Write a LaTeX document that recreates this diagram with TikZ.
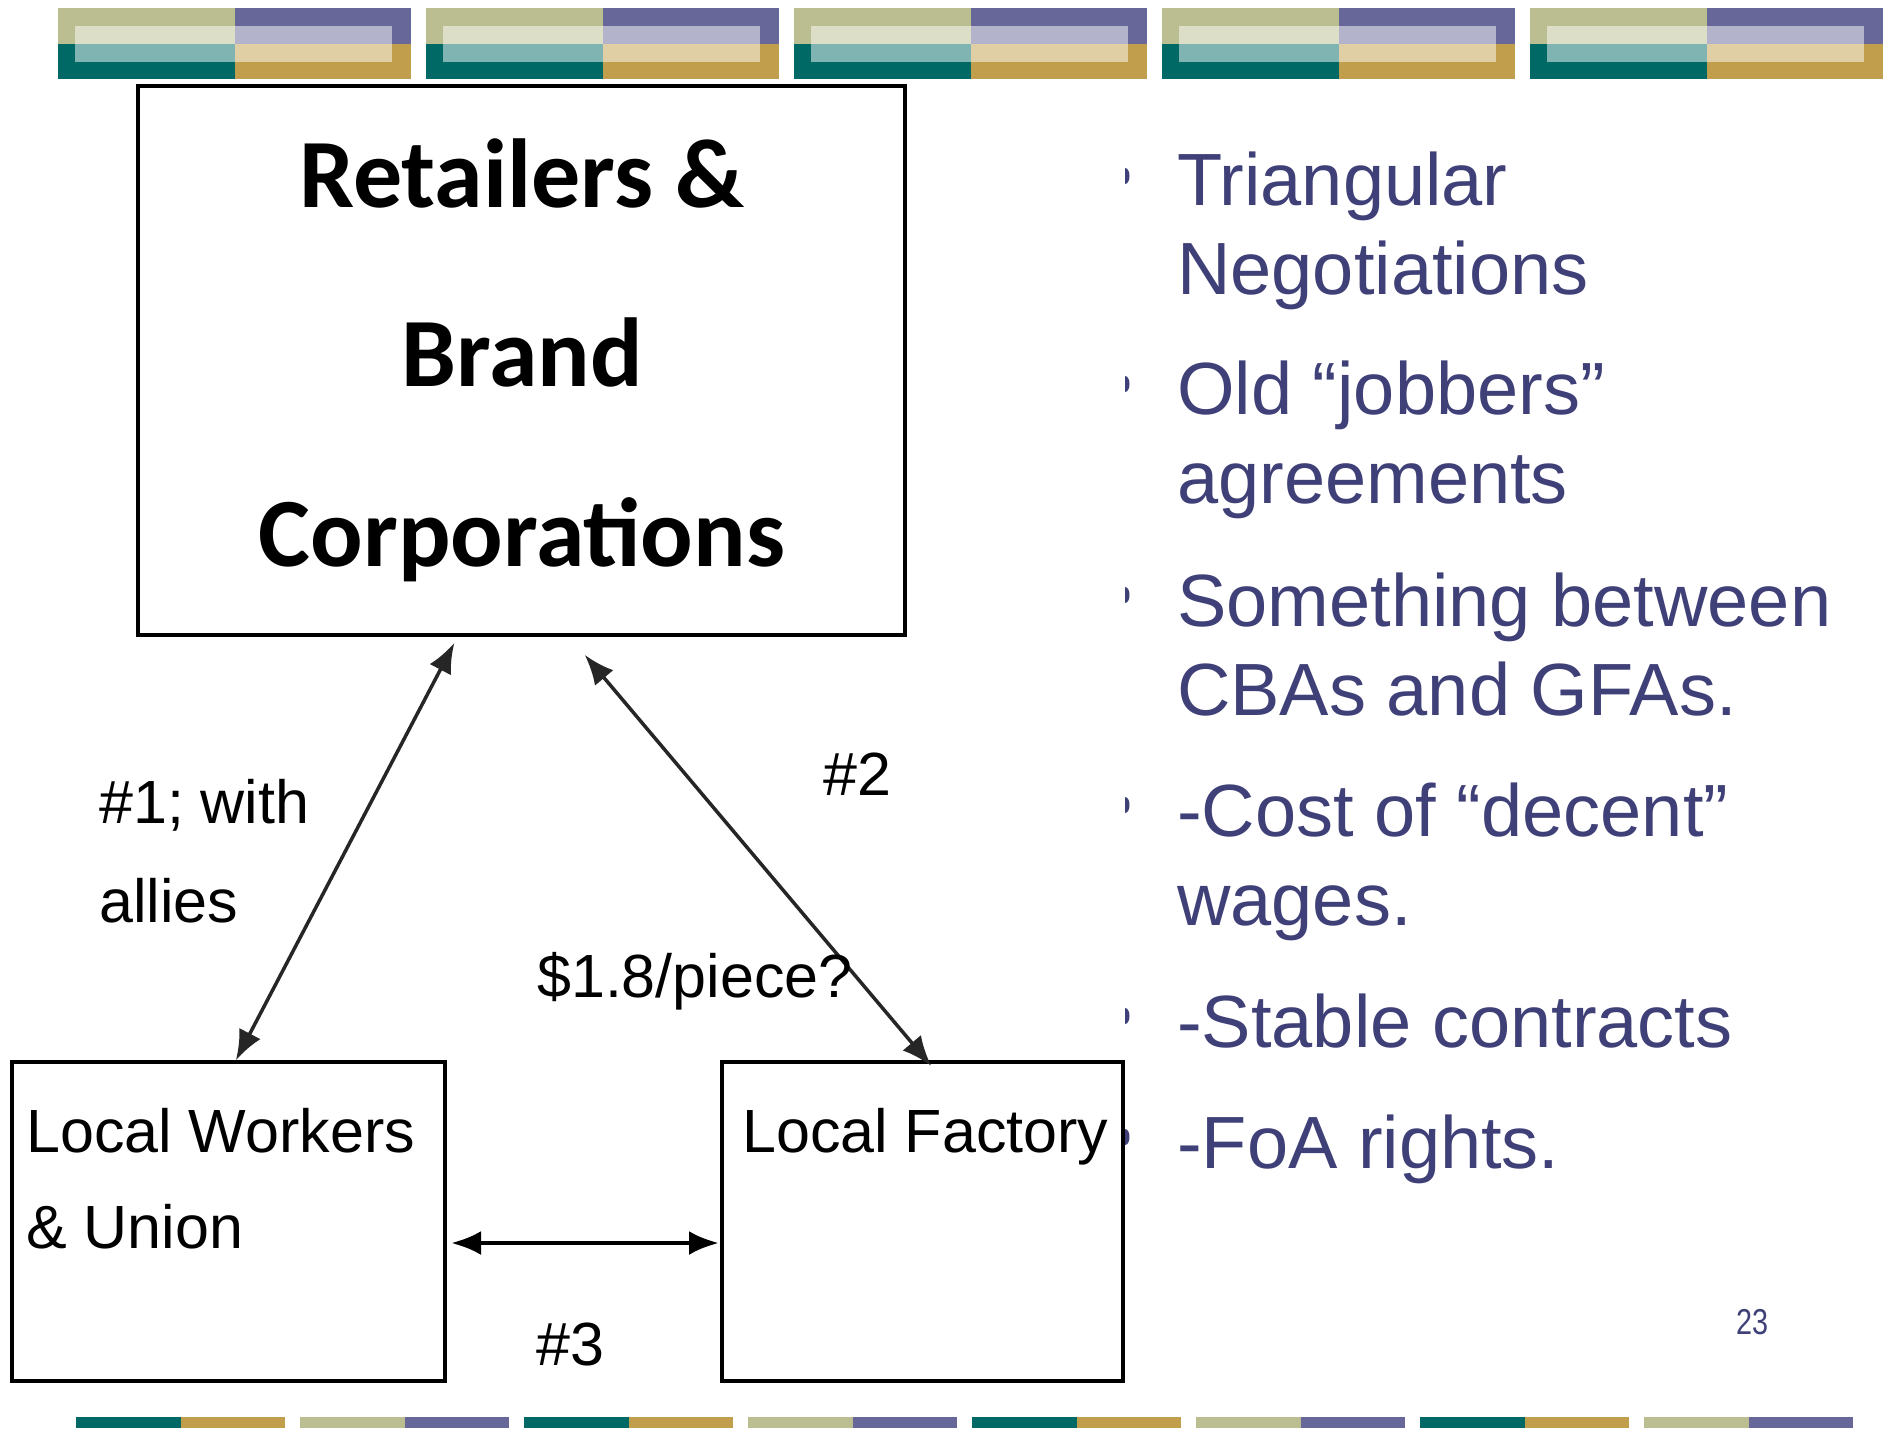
\documentclass[tikz,border=0pt]{standalone}
\usepackage{fontspec}
\setmainfont{Liberation Sans}
\newfontfamily\calfont{Carlito}
\usetikzlibrary{arrows.meta}
\definecolor{bandolive}{RGB}{187,190,144}
\definecolor{bandpurple}{RGB}{103,103,153}
\definecolor{bandteal}{RGB}{0,105,102}
\definecolor{bandgold}{RGB}{193,158,76}
\definecolor{slidetext}{RGB}{64,64,120}

\begin{document}
\begin{tikzpicture}[x=1pt,y=-1pt,
    box/.style={rectangle, draw, line width=4pt, inner sep=0pt, outer sep=0pt},
    link/.style={{Latex[length=30pt,width=24pt]}-{Latex[length=30pt,width=24pt]}, line width=3.5pt, draw=black!85},
    lbl/.style={anchor=base west, inner sep=0pt, align=left, font=\fontsize{61}{98}\selectfont},
    point/.style={anchor=base west, inner sep=0pt, align=left, text=slidetext, font=\fontsize{74}{88.5}\selectfont}]
    \useasboundingbox (0,0) rectangle (1883,1428);
    \fill[white] (0,0) rectangle (1883,1428);

    % banner
    \foreach \i in {0,...,4} {
        \pgfmathsetmacro{\xa}{58+368*\i}
        \fill[bandolive] (\xa,8) rectangle ++(177,36);
        \fill[bandpurple] (\xa+177,8) rectangle ++(176,36);
        \fill[bandteal] (\xa,44) rectangle ++(177,35);
        \fill[bandgold] (\xa+177,44) rectangle ++(176,35);
        \fill[white, fill opacity=0.5] (\xa+17,26) rectangle (\xa+334,62);
    }
    \foreach \k in {0,2,4,6} {
        \fill[bandteal] (76+224*\k,1417) rectangle ++(104.5,11);
        \fill[bandgold] (180.5+224*\k,1417) rectangle ++(104.5,11);
    }
    \foreach \k in {1,3,5,7} {
        \fill[bandolive] (76+224*\k,1417) rectangle ++(104.5,11);
        \fill[bandpurple] (180.5+224*\k,1417) rectangle ++(104.5,11);
    }

    \node[box, minimum width=767pt, minimum height=549pt] (retail) at (521.5,360.5) {};
    \node[anchor=base, inner sep=0pt, align=center, font=\calfont\bfseries\fontsize{98}{179.5}\selectfont] (retailtxt) at (522,566) {Retailers \&\\Brand\\Corporations};
    \node[box, minimum width=433pt, minimum height=319pt] (workers) at (228.5,1221.5) {};
    \node[lbl, font=\fontsize{61}{96}\selectfont] (workerstxt) at (26,1248) {Local Workers\\\& Union};
    \node[box, minimum width=401pt, minimum height=319pt] (factory) at (922.5,1221.5) {};
    \node[lbl] (factorytxt) at (742,1152) {Local Factory};

    \draw[link, shorten <=9pt, shorten >=2pt] ([xshift=-63pt]retail.south) -- ([xshift=6.5pt]workers.north);
    \draw[link, shorten <=26pt, shorten >=-5pt] ([xshift=46.5pt]retail.south) -- ([xshift=5.5pt]factory.north);
    \draw[link, line width=4.5pt, draw=black, shorten <=6pt, shorten >=3pt] ([yshift=-21.5pt]workers.east) -- ([yshift=-21.5pt]factory.west);

    \node[lbl, font=\fontsize{61}{99}\selectfont] (allies) at (99,922) {\#1; with\\allies};
    \node[lbl] (two) at (823,795) {\#2};
    \node[lbl] (price) at (537,997) {\$1.8/piece?};
    \node[lbl] (three) at (536,1365) {\#3};

    \node[point] (p1) at (1177,294) {Triangular\\Negotiations};
    \node[point] (p2) at (1177,503) {Old “jobbers”\\agreements};
    \node[point] (p3) at (1177,715) {Something between\\CBAs and GFAs.};
    \node[point] (p4) at (1177,925) {-Cost of “decent”\\wages.};
    \node[point] (p5) at (1177,1047) {-Stable contracts};
    \node[point] (p6) at (1177,1168) {-FoA rights.};
    \foreach \y in {207,415,626,836,1047,1168}
        \fill[slidetext] (1125,\y-39) .. controls (1131,\y-39) and (1131,\y-23) .. (1125,\y-23) -- cycle;

    \node[anchor=base west, inner sep=0pt, text=slidetext, font=\fontsize{36}{40}\selectfont] (pagenum) at (1736,1334) {\scalebox{0.8}[1]{23}};
\end{tikzpicture}
\end{document}
